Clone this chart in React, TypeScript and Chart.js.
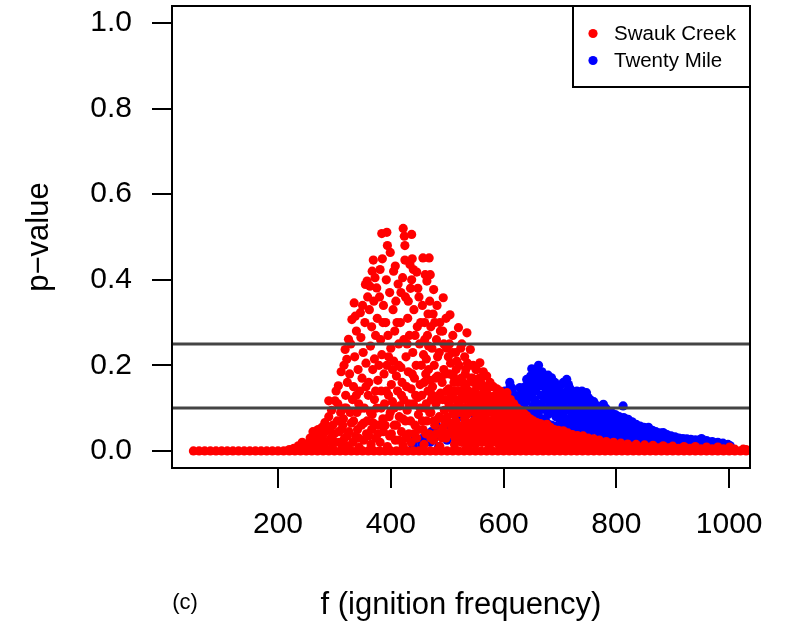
import React, { useEffect, useRef } from 'react';
import { Chart, registerables } from 'chart.js';

Chart.register(...registerables);

const FONT = '"Liberation Sans", Arial, Helvetica, sans-serif';

const xTicks = [200, 400, 600, 800, 1000];
const yTicks = [0, 0.2, 0.4, 0.6, 0.8, 1.0];
const refLines = [0.1, 0.25];
const seriesLabels = ['Swauk Creek', 'Twenty Mile'];
const seriesColors = ['#ff0000', '#0000ff'];

// Swauk Creek: runs with p-value ~0 along the whole frequency range
const swaukZeroX = [50, 60, 70, 80, 90, 100, 110, 120, 130, 140, 150, 160, 170, 180, 190, 200, 210, 220, 230, 240, 250, 260, 270, 280, 290, 300, 310, 320, 330, 340, 350, 360, 370, 380, 390, 400, 410, 420, 430, 440, 450, 460, 470, 480, 490, 500, 510, 520, 530, 540, 550, 560, 570, 580, 590, 600, 610, 620, 630, 640, 650, 660, 670, 680, 690, 700, 710, 720, 730, 740, 750, 760, 770, 780, 790, 800, 810, 820, 830, 840, 850, 860, 870, 880, 890, 900, 910, 920, 930, 940, 950, 960, 970, 980, 990, 1000, 1010, 1020, 1030];

// Swauk Creek: [f, p-value]
const swaukPoints: [number, number][] = [
  [232,0.005],[236,0.012],[245,0.008],[243,0.02],[255,0.004],[252,0.015],[257,0.03],[265,0.01],[262,0.025],[267,0.04],[272,0.006],[274,0.018],[271,0.05],[281,0.012],[279,0.035],[283,0.066],[288,0.022],[286,0.048],[290,0.08],[290,0.117],[296,0.008],[294,0.03],[297,0.06],[295,0.095],[301,0.117],[303,0.14],[300,0.04],[307,0.152],[305,0.07],[309,0.02],[306,0.11],[312,0.185],[313,0.05],[311,0.09],[314,0.013],[319,0.237],[317,0.2],[320,0.13],[318,0.03],[316,0.075],[322,0.214],[323,0.16],[321,0.1],[325,0.261],[326,0.045],[324,0.012],[327,0.18],[331,0.307],[329,0.25],[332,0.12],[330,0.065],[333,0.02],[335,0.346],[336,0.22],[334,0.15],[338,0.035],[337,0.315],[339,0.28],[340,0.09],[342,0.19],[343,0.11],[341,0.05],[344,0.008],[346,0.323],[347,0.265],[345,0.14],[348,0.06],[350,0.34],[351,0.23],[349,0.17],[352,0.025],[355,0.389],[354,0.3],[356,0.205],[353,0.1],[357,0.04],[358,0.397],[359,0.36],[360,0.13],[358,0.07],[363,0.385],[362,0.33],[364,0.245],[361,0.16],[365,0.015],[367,0.42],[366,0.29],[368,0.19],[367,0.085],[366,0.05],[369,0.446],[370,0.35],[371,0.12],[372,0.405],[373,0.27],[371,0.215],[374,0.03],[375,0.381],[376,0.31],[377,0.165],[375,0.1],[378,0.06],[381,0.424],[380,0.36],[382,0.26],[383,0.14],[381,0.02],[384,0.508],[385,0.449],[384,0.225],[386,0.075],[387,0.34],[388,0.18],[389,0.11],[387,0.045],[393,0.511],[392,0.4],[391,0.3],[393,0.2],[394,0.48],[395,0.27],[396,0.13],[394,0.01],[399,0.464],[398,0.37],[400,0.24],[401,0.155],[399,0.09],[398,0.035],[404,0.33],[405,0.21],[403,0.115],[406,0.06],[408,0.432],[409,0.35],[407,0.28],[410,0.175],[408,0.025],[413,0.39],[414,0.25],[412,0.14],[415,0.08],[417,0.3],[418,0.195],[416,0.105],[419,0.045],[422,0.52],[421,0.405],[423,0.26],[420,0.16],[422,0.012],[424,0.502],[425,0.446],[426,0.36],[423,0.12],[425,0.48],[427,0.22],[426,0.07],[430,0.31],[431,0.185],[429,0.095],[432,0.04],[434,0.436],[435,0.38],[433,0.27],[436,0.145],[437,0.506],[438,0.449],[437,0.4],[439,0.23],[436,0.02],[440,0.424],[441,0.33],[442,0.17],[440,0.11],[443,0.06],[446,0.418],[447,0.29],[445,0.2],[448,0.125],[446,0.03],[450,0.36],[451,0.25],[452,0.155],[449,0.085],[457,0.451],[456,0.34],[458,0.225],[455,0.13],[457,0.05],[461,0.412],[460,0.3],[462,0.18],[461,0.1],[459,0.015],[464,0.397],[465,0.27],[463,0.215],[466,0.14],[464,0.07],[468,0.451],[469,0.35],[467,0.245],[470,0.165],[468,0.04],[470,0.412],[471,0.29],[472,0.12],[471,0.09],[476,0.377],[475,0.32],[477,0.2],[474,0.15],[478,0.06],[476,0.025],[482,0.34],[481,0.26],[483,0.175],[480,0.11],[484,0.075],[487,0.3],[486,0.23],[488,0.135],[489,0.045],[487,0.01],[493,0.358],[492,0.28],[494,0.19],[491,0.16],[495,0.095],[493,0.055],[498,0.31],[499,0.24],[497,0.12],[500,0.08],[498,0.03],[505,0.318],[504,0.25],[506,0.205],[503,0.145],[507,0.1],[505,0.065],[510,0.27],[511,0.175],[509,0.125],[512,0.085],[510,0.04],[513,0.015],[515,0.23],[516,0.19],[514,0.14],[517,0.105],[515,0.07],[518,0.03],[520,0.288],[521,0.2],[519,0.16],[522,0.115],[520,0.05],[526,0.25],[525,0.17],[527,0.13],[524,0.09],[528,0.06],[526,0.02],[531,0.22],[532,0.18],[530,0.145],[533,0.1],[531,0.075],[529,0.035],[535,0.276],[536,0.205],[534,0.155],[537,0.12],[535,0.085],[538,0.045],[536,0.01],[541,0.237],[542,0.17],[540,0.135],[543,0.1],[541,0.065],[539,0.025],[546,0.2],[547,0.16],[545,0.125],[548,0.09],[546,0.055],[544,0.03],[552,0.19],[553,0.15],[551,0.115],[554,0.08],[552,0.045],[550,0.015],[558,0.206],[557,0.17],[559,0.13],[556,0.1],[560,0.07],[558,0.035],[564,0.185],[565,0.14],[563,0.11],[566,0.08],[564,0.05],[562,0.02],[570,0.175],[571,0.145],[569,0.115],[572,0.09],[570,0.06],[568,0.03],[576,0.16],[577,0.125],[575,0.1],[578,0.07],[576,0.045],[574,0.012],[582,0.15],[583,0.12],[581,0.095],[584,0.065],[582,0.04],[580,0.02],[588,0.145],[589,0.11],[587,0.085],[590,0.055],[588,0.03],[594,0.14],[595,0.115],[593,0.09],[596,0.065],[594,0.04],[592,0.015],[600,0.13],[601,0.1],[599,0.075],[602,0.05],[600,0.025],[606,0.136],[607,0.11],[605,0.085],[608,0.06],[606,0.035],[604,0.01],[612,0.12],[613,0.095],[611,0.07],[614,0.045],[612,0.02],[618,0.11],[619,0.085],[617,0.06],[620,0.04],[618,0.015],[624,0.1],[625,0.078],[623,0.055],[626,0.03],[630,0.095],[631,0.07],[629,0.05],[632,0.028],[630,0.01],[636,0.088],[637,0.065],[635,0.042],[638,0.02],[641,0.082],[642,0.06],[640,0.038],[643,0.015],[647,0.075],[648,0.055],[646,0.035],[649,0.012],[653,0.07],[654,0.05],[652,0.03],[659,0.066],[660,0.045],[658,0.025],[661,0.01],[665,0.064],[666,0.042],[664,0.02],[671,0.06],[672,0.038],[670,0.016],[677,0.062],[678,0.035],[676,0.014],[683,0.055],[684,0.03],[682,0.01],[690,0.05],[691,0.028],[689,0.012],[697,0.048],[698,0.025],[706,0.047],[707,0.022],[705,0.01],[714,0.042],[715,0.02],[722,0.038],[723,0.018],[731,0.036],[732,0.015],[741,0.035],[742,0.014],[750,0.03],[751,0.012],[760,0.028],[761,0.01],[770,0.025],[771,0.01],[782,0.022],[783,0.008],[795,0.02],[796,0.008],[808,0.018],[820,0.016],[835,0.015],[850,0.014],[865,0.013],[883,0.012],[900,0.011],[920,0.01],[940,0.01],[960,0.009],[980,0.009],[1001,0.009],
  [220,0.003],[228,0.006],[238,0.004],[248,0.01],[258,0.008],[262,0.045],[268,0.03],[276,0.03],[278,0.055],[284,0.045],[292,0.05],
  [302,0.02],[308,0.045],[315,0.06],[318,0.1],[323,0.035],[328,0.09],[334,0.07],[339,0.13],[343,0.03],[348,0.1],[352,0.065],[356,0.15],[361,0.035],[364,0.09],[369,0.065],[373,0.14],[377,0.04],[379,0.2],[383,0.1],[386,0.3],[390,0.06],[392,0.14],[396,0.22],[397,0.08],[401,0.04],[403,0.19],[405,0.42],[406,0.1],[410,0.06],[411,0.3],[414,0.2],[415,0.025],[418,0.37],[419,0.13],[421,0.075],[427,0.03],[428,0.15],[429,0.25],[431,0.35],[432,0.11],[435,0.07],[438,0.18],[441,0.04],[443,0.27],[444,0.13],[448,0.38],[449,0.05],[452,0.1],[453,0.3],[454,0.2],[456,0.07],[459,0.16],[460,0.26],[462,0.04],[463,0.11],[466,0.32],[467,0.19],[469,0.09],[471,0.03],[473,0.24],[474,0.13],[476,0.07],[478,0.3],[479,0.17],[481,0.04],[483,0.22],[485,0.12],[486,0.08],[488,0.28],[489,0.17],[491,0.03],[492,0.12],[494,0.25],[496,0.07],[497,0.18],[499,0.14],[501,0.04],[502,0.22],[503,0.11],[504,0.18],[507,0.13],[508,0.05],[509,0.23],[511,0.09],[512,0.16],[514,0.03],[516,0.12],[517,0.21],[518,0.06],[521,0.09],[522,0.14],[523,0.035],[524,0.24],[527,0.1],[528,0.16],[529,0.05],[532,0.12],[533,0.19],[534,0.06],[537,0.015],[538,0.14],[539,0.09],[540,0.2],[543,0.05],[544,0.11],[545,0.17],[547,0.07],[549,0.14],[550,0.04],[551,0.19],[553,0.1],[555,0.06],[556,0.13],[557,0.025],[560,0.16],[561,0.09],[562,0.05],[563,0.12],[566,0.15],[567,0.035],[568,0.1],[571,0.07],[573,0.13],[574,0.05],[577,0.15],[578,0.09],[579,0.03],[581,0.11],[583,0.055],[585,0.13],[586,0.08],[587,0.02],[590,0.1],[591,0.045],[592,0.125],[595,0.075],[597,0.03],[598,0.11],[599,0.05],[602,0.085],[603,0.12],[604,0.06],[608,0.1],[609,0.045],[610,0.025],[614,0.08],[615,0.1],[616,0.03],[620,0.095],[621,0.07],[622,0.02],[626,0.085],[627,0.06],[628,0.04],[633,0.08],[634,0.055],[634,0.012],[639,0.07],[640,0.05],[644,0.07],[645,0.045],[645,0.025],[650,0.06],[651,0.04],[656,0.058],[657,0.035],[662,0.055],[663,0.03],[668,0.05],[669,0.028],[674,0.048],[675,0.025],[680,0.045],[681,0.02],[687,0.04],[688,0.02],[694,0.038],[695,0.015],[701,0.035],[702,0.015],[710,0.032],[711,0.012],[718,0.03],[719,0.01],[727,0.027],[736,0.025],[746,0.022],[755,0.02],[765,0.018],[776,0.016],[788,0.014],[800,0.012],[812,0.01],[826,0.009],[842,0.008],[858,0.008],[874,0.007],[892,0.007],[910,0.006],[930,0.006],[950,0.005],[970,0.005],[990,0.005],[1010,0.004],[1025,0.004],[1030,0.003]
];

// Twenty Mile: [f, p-value]
const twentyPoints: [number, number][] = [
  [440,0.01],[442,0.025],[455,0.015],[457,0.03],[470,0.02],[472,0.045],[485,0.01],[487,0.035],[484,0.055],[500,0.025],[502,0.06],[515,0.04],[517,0.075],[530,0.02],[532,0.06],[529,0.09],[549,0.082],[551,0.05],[547,0.1],[560,0.03],[562,0.07],[559,0.11],[575,0.06],[577,0.095],[574,0.125],[590,0.04],[592,0.08],[589,0.12],[600,0.1],[602,0.14],[611,0.16],[612,0.152],[610,0.12],[613,0.09],[620,0.13],[621,0.105],[619,0.075],[629,0.148],[630,0.12],[628,0.1],[635,0.132],[636,0.11],[634,0.085],[641,0.167],[642,0.14],[640,0.115],[643,0.095],[644,0.167],[645,0.125],[650,0.192],[651,0.155],[649,0.13],[652,0.105],[650,0.09],[656,0.17],[657,0.14],[655,0.12],[658,0.08],[662,0.2],[663,0.175],[661,0.15],[664,0.11],[662,0.09],[668,0.185],[669,0.16],[667,0.13],[670,0.1],[668,0.075],[674,0.165],[675,0.145],[673,0.12],[676,0.095],[674,0.07],[679,0.177],[680,0.155],[678,0.13],[681,0.105],[679,0.085],[677,0.065],[685,0.171],[686,0.14],[684,0.115],[687,0.09],[685,0.06],[691,0.16],[692,0.135],[690,0.108],[693,0.08],[691,0.058],[697,0.15],[698,0.125],[696,0.1],[699,0.075],[697,0.055],[703,0.155],[704,0.13],[702,0.11],[705,0.085],[703,0.06],[712,0.167],[713,0.14],[711,0.118],[714,0.095],[712,0.07],[710,0.05],[718,0.145],[719,0.12],[717,0.1],[720,0.08],[718,0.055],[724,0.135],[725,0.11],[723,0.09],[726,0.068],[724,0.045],[730,0.14],[731,0.115],[729,0.095],[732,0.075],[730,0.05],[736,0.13],[737,0.105],[735,0.085],[738,0.062],[736,0.042],[741,0.125],[742,0.1],[740,0.08],[743,0.06],[747,0.136],[748,0.112],[746,0.09],[749,0.07],[747,0.048],[753,0.12],[754,0.095],[752,0.075],[755,0.055],[753,0.038],[760,0.115],[761,0.09],[759,0.07],[762,0.05],[766,0.105],[767,0.085],[765,0.065],[768,0.045],[766,0.03],[772,0.1],[773,0.08],[771,0.06],[774,0.04],[777,0.109],[778,0.088],[776,0.068],[779,0.05],[777,0.032],[784,0.095],[785,0.075],[783,0.055],[786,0.038],[791,0.09],[792,0.07],[790,0.052],[793,0.035],[791,0.025],[798,0.085],[799,0.066],[797,0.048],[800,0.03],[805,0.08],[806,0.062],[804,0.045],[807,0.03],[812,0.105],[813,0.078],[811,0.058],[814,0.04],[812,0.025],[818,0.07],[819,0.052],[817,0.036],[821,0.074],[822,0.06],[820,0.045],[823,0.03],[828,0.068],[829,0.05],[827,0.035],[830,0.022],[835,0.062],[836,0.046],[834,0.032],[842,0.058],[843,0.043],[841,0.03],[844,0.02],[849,0.055],[850,0.04],[848,0.027],[857,0.055],[858,0.04],[856,0.028],[859,0.018],[864,0.048],[865,0.035],[863,0.024],[870,0.045],[871,0.032],[869,0.022],[877,0.042],[878,0.03],[876,0.02],[883,0.043],[884,0.03],[882,0.02],[890,0.038],[891,0.027],[889,0.018],[897,0.035],[898,0.025],[904,0.033],[905,0.023],[903,0.016],[911,0.03],[912,0.021],[918,0.029],[919,0.02],[917,0.014],[925,0.028],[926,0.019],[932,0.027],[933,0.018],[940,0.026],[941,0.017],[951,0.029],[952,0.02],[950,0.014],[960,0.024],[961,0.016],[970,0.022],[971,0.015],[980,0.02],[981,0.013],[989,0.018],[990,0.012],[998,0.015],[999,0.01],
  [606,0.14],[616,0.145],[624,0.125],[632,0.138],[638,0.15],[646,0.148],[648,0.175],[653,0.18],[659,0.16],[660,0.19],[665,0.17],[671,0.178],[672,0.15],[676,0.16],[682,0.165],[683,0.125],[688,0.155],[689,0.1],[694,0.145],[695,0.12],[700,0.14],[701,0.09],[706,0.16],[707,0.125],[708,0.1],[709,0.075],[715,0.155],[716,0.13],[721,0.14],[722,0.115],[727,0.125],[728,0.1],[733,0.135],[734,0.11],[739,0.14],[740,0.09],[744,0.13],[745,0.105],[750,0.125],[751,0.1],[756,0.11],[757,0.085],[763,0.1],[764,0.078],[769,0.095],[770,0.072],[775,0.09],[781,0.1],[782,0.08],[787,0.085],[788,0.065],[794,0.08],[795,0.058],[801,0.075],[802,0.055],[808,0.07],[809,0.05],[815,0.075],[816,0.062],[824,0.065],[825,0.05],[832,0.058],[833,0.042],[838,0.055],[839,0.04],[846,0.05],[847,0.035],[853,0.048],[854,0.034],[861,0.045],[867,0.04],[873,0.038],[880,0.036],[887,0.034],[894,0.032],[901,0.03],[908,0.028],[915,0.026],[922,0.025],[929,0.024],[936,0.023],[944,0.022],[947,0.025],[956,0.02],[965,0.019],[975,0.018],[985,0.016],[994,0.014],[1002,0.012]
];

const toXY = (pts: [number, number][]) => pts.map(([x, y]) => ({ x, y }));

const decorPlugin = {
  id: 'decor',
  afterDatasetsDraw(chart: any) {
    const { ctx, chartArea } = chart;
    const yScale = chart.scales.y;
    ctx.save();
    ctx.strokeStyle = '#444444';
    ctx.lineWidth = 3;
    for (const v of refLines) {
      const py = yScale.getPixelForValue(v);
      ctx.beginPath();
      ctx.moveTo(chartArea.left, py);
      ctx.lineTo(chartArea.right, py);
      ctx.stroke();
    }
    ctx.restore();
  },
  afterDraw(chart: any) {
    const { ctx, chartArea } = chart;
    ctx.save();
    // plot box
    ctx.strokeStyle = '#000';
    ctx.lineWidth = 2;
    ctx.strokeRect(chartArea.left, chartArea.top, chartArea.right - chartArea.left, chartArea.bottom - chartArea.top);
    // legend
    const lw = 177;
    const lh = 81;
    const lx = chartArea.right - lw;
    const ly = chartArea.top;
    ctx.fillStyle = '#fff';
    ctx.fillRect(lx, ly, lw, lh);
    ctx.strokeRect(lx, ly, lw, lh);
    ctx.font = `20.5px ${FONT}`;
    ctx.textBaseline = 'middle';
    ctx.textAlign = 'left';
    chart.data.datasets.forEach((ds: any, i: number) => {
      const rowY = ly + 27.5 + i * 27;
      ctx.fillStyle = ds.backgroundColor;
      ctx.beginPath();
      ctx.arc(lx + 20, rowY, 4.6, 0, Math.PI * 2);
      ctx.fill();
      ctx.fillStyle = '#000';
      ctx.fillText(ds.label, lx + 41, rowY + 1);
    });
    // panel tag
    ctx.font = `22px ${FONT}`;
    ctx.textAlign = 'center';
    ctx.fillText('(c)', 185, 603);
    ctx.restore();
  },
};

export default function App() {
  const ref = useRef<HTMLCanvasElement>(null);
  useEffect(() => {
    if (!ref.current) return;
    const chart = new Chart(ref.current, {
      type: 'scatter',
      data: {
        datasets: [
          {
            label: seriesLabels[0],
            data: [...swaukZeroX.map((x) => ({ x, y: 0 })), ...toXY(swaukPoints)],
            backgroundColor: seriesColors[0],
            borderWidth: 0,
            pointRadius: 4.6,
            pointHoverRadius: 4.6,
          },
          {
            label: seriesLabels[1],
            data: toXY(twentyPoints),
            backgroundColor: seriesColors[1],
            borderWidth: 0,
            pointRadius: 4.6,
            pointHoverRadius: 4.6,
          },
        ],
      },
      options: {
        responsive: false,
        animation: false,
        events: [],
        layout: { padding: { top: 6, right: 40, left: 0, bottom: 0 } },
        plugins: { legend: { display: false }, tooltip: { enabled: false } },
        scales: {
          x: {
            type: 'linear',
            position: 'bottom',
            min: 12,
            max: 1037,
            afterBuildTicks: (scale: any) => {
              scale.ticks = xTicks.map((v) => ({ value: v }));
            },
            afterFit: (scale: any) => {
              scale.height = 162;
              scale.paddingLeft = 0;
              scale.paddingRight = 0;
            },
            ticks: {
              color: '#000',
              font: { family: FONT, size: 30 },
              padding: 19,
              maxRotation: 0,
              autoSkip: false,
              callback: (v: any) => String(v),
            },
            grid: { display: true, drawOnChartArea: false, drawTicks: true, tickLength: 20, color: '#000', lineWidth: 2 },
            border: { display: false },
            title: {
              display: true,
              text: 'f (ignition frequency)',
              color: '#000',
              font: { family: FONT, size: 31 },
              padding: { top: 0, bottom: 6 },
            },
          },
          y: {
            type: 'linear',
            min: -0.04,
            max: 1.04,
            afterBuildTicks: (scale: any) => {
              scale.ticks = yTicks.map((v) => ({ value: v }));
            },
            afterFit: (scale: any) => {
              scale.width = 172;
              scale.paddingTop = 0;
              scale.paddingBottom = 0;
            },
            ticks: {
              color: '#000',
              font: { family: FONT, size: 30 },
              padding: 20,
              autoSkip: false,
              callback: (v: any) => Number(v).toFixed(1),
            },
            grid: { display: true, drawOnChartArea: false, drawTicks: true, tickLength: 20, color: '#000', lineWidth: 2 },
            border: { display: false },
            title: {
              display: true,
              text: 'p\u2212value',
              color: '#000',
              font: { family: FONT, size: 31 },
              padding: { top: 21, bottom: 0 },
            },
          },
        },
      } as any,
      plugins: [decorPlugin],
    });
    return () => chart.destroy();
  }, []);
  return (
    <div style={{ position: 'fixed', left: 0, top: 0, width: 790, height: 630, background: '#fff' }}>
      <canvas ref={ref} width={790} height={630} style={{ display: 'block' }} />
    </div>
  );
}
